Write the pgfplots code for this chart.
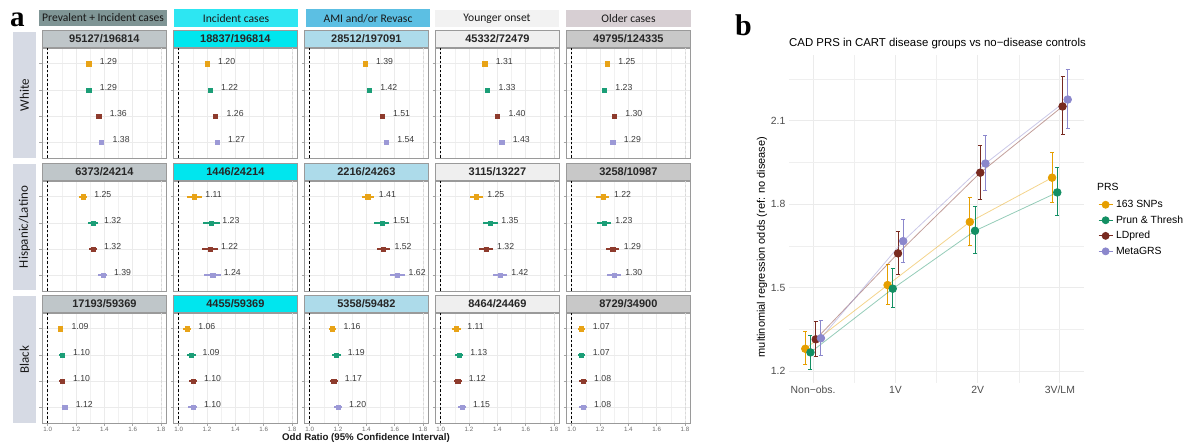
\documentclass[border=0pt]{standalone}
\usepackage{pgfplots}
\pgfplotsset{compat=1.18}
\usepackage{fontspec}
\setmainfont{Liberation Sans}
\newfontfamily\calibri{Carlito}
\newfontfamily\timesf{Liberation Serif}
\newcommand\fs[1]{\fontsize{#1bp}{#1bp}\selectfont}

\definecolor{cO}{HTML}{E8A317}
\definecolor{cG}{HTML}{1B9E77}
\definecolor{cR}{HTML}{8E3B2D}
\definecolor{cP}{HTML}{9C99D6}
\definecolor{bO}{HTML}{E69F00}
\definecolor{bG}{HTML}{138F63}
\definecolor{bR}{HTML}{782A20}
\definecolor{bP}{HTML}{8B87CC}
\definecolor{gridc}{HTML}{EBEBEB}
\definecolor{borderc}{HTML}{9A9A9A}
\definecolor{valc}{HTML}{3A3A3A}
\definecolor{tickc}{HTML}{4D4D4D}
\definecolor{hc1}{HTML}{7F9595}
\definecolor{hc2}{HTML}{2DE6F2}
\definecolor{hc3}{HTML}{5CBFE3}
\definecolor{hc4}{HTML}{F2F2F2}
\definecolor{hc5}{HTML}{D7CFD3}
\definecolor{sc1}{HTML}{BFC6C9}
\definecolor{sc2}{HTML}{00E6EE}
\definecolor{sc3}{HTML}{ADDBEA}
\definecolor{sc4}{HTML}{EFEFEF}
\definecolor{sc5}{HTML}{C8C8C8}
\definecolor{rowc}{HTML}{D6DAE4}

\pgfplotsset{
  facet/.style={
    scale only axis, width=124bp, height=110bp, anchor=north west,
    xmin=0.96, xmax=1.835, ymin=0.4, ymax=4.6, clip=false,
    xtick={1,1.2,1.4,1.6,1.8}, minor xtick={1.1,1.3,1.5,1.7},
    ytick={1,2,3,4}, yticklabels={},
    xmajorgrids, xminorgrids, ymajorgrids,
    major grid style={draw=gridc, line width=0.7bp},
    minor grid style={draw=gridc!70!white, line width=0.5bp},
    axis line style={draw=borderc, line width=0.8bp},
    tick align=outside, major tick length=2.5bp, minor tick length=0pt,
    tick style={draw=gray!70, line width=0.6bp},
    xtick pos=bottom, ytick pos=left,
    xticklabel style={font=\fs{6.2}, text=gray!85!black, inner sep=1.5bp},
    xticklabel={\pgfmathprintnumber[assume math mode=true,fixed,fixed zerofill,precision=1]{\tick}},
  },
  notick/.style={xmajorticks=false, xticklabel={}},
}

\newcommand{\pt}[4]{%
  \addplot[#1, only marks, mark=square*, mark size=2.1bp, point meta=x,
    nodes near coords={\pgfmathprintnumber[assume math mode=true,fixed,fixed zerofill,precision=2]{\pgfplotspointmeta}},
    every node near coord/.append style={anchor=west, xshift=11bp, yshift=2.5bp, font=\fs{8.7}, text=valc, inner sep=0pt},
    error bars/.cd, x dir=both, x explicit, error bar style={line width=2bp, #1}, error mark=none]
    coordinates {(#2,#3) +- (#4,0)};}

\newcommand{\four}[8]{\pt{cO}{#1}{4}{#2}\pt{cG}{#3}{3}{#4}\pt{cR}{#5}{2}{#6}\pt{cP}{#7}{1}{#8}}

\newcommand{\facet}[6]{%
  \node[anchor=south west, minimum width=124bp, minimum height=17bp, inner sep=0pt,
        fill=#3, draw=borderc, line width=0.8bp, font=\bfseries\fs{11}, text=black!85] at (#1bp,-#2bp) {#4};
  \begin{axis}[facet, at={(#1bp,-#2bp)}, #5]
    \addplot[black, dashed, dash pattern=on 2.5bp off 2bp, line width=0.7bp] coordinates {(1,0.4) (1,4.6)};
    \addplot[gray!30, dashed, dash pattern=on 2.5bp off 2bp, line width=0.6bp] coordinates {(1.8,0.4) (1.8,4.6)};
    #6
  \end{axis}}

\begin{document}
\begin{tikzpicture}
\path[use as bounding box] (0,0) rectangle (1186bp,-445bp);

% panel labels
\node[font=\timesf\bfseries\fs{29}, anchor=base west, inner sep=0pt] at (10bp,-26bp) {a};
\node[font=\timesf\bfseries\fs{30}, anchor=base west, inner sep=0pt] at (735bp,-35.5bp) {b};

% column headers
\fill[hc1] (39bp,-10bp) rectangle (167bp,-26bp);
\node[font=\calibri\fs{11.6}, text=black!90] at (103bp,-18bp) {Prevalent + Incident cases};
\fill[hc2] (174bp,-9bp) rectangle (298bp,-27bp);
\node[font=\calibri\fs{11.6}, text=black!90] at (236bp,-18.5bp) {Incident cases};
\fill[hc3] (306bp,-9bp) rectangle (430bp,-27bp);
\node[font=\calibri\fs{11.6}, text=black!90] at (368bp,-18.5bp) {AMI and/or Revasc};
\fill[hc4] (435bp,-10bp) rectangle (559bp,-27bp);
\node[font=\calibri\fs{11.6}, text=black!90] at (497bp,-18.5bp) {Younger onset};
\fill[hc5] (566bp,-10bp) rectangle (691bp,-27bp);
\node[font=\calibri\fs{11.6}, text=black!90] at (628.5bp,-18.5bp) {Older cases};

% row labels
\fill[rowc] (13bp,-32bp) rectangle (36bp,-158bp);
\node[rotate=90, font=\calibri\fs{13}, text=black!90] at (24.5bp,-95bp) {White};
\fill[rowc] (13bp,-164bp) rectangle (36bp,-290bp);
\node[rotate=90, font=\calibri\fs{13}, text=black!90] at (24.5bp,-227bp) {Hispanic/Latino};
\fill[rowc] (13bp,-296bp) rectangle (36bp,-423bp);
\node[rotate=90, font=\calibri\fs{13}, text=black!90] at (24.5bp,-359.5bp) {Black};

% Row 1: White
\facet{42}{48}{sc1}{95127/196814}{notick}{\four{1.29}{0.012}{1.29}{0.012}{1.36}{0.012}{1.38}{0.012}}
\facet{173}{48}{sc2}{18837/196814}{notick}{\four{1.20}{0.012}{1.22}{0.012}{1.26}{0.012}{1.27}{0.012}}
\facet{304}{48}{sc3}{28512/197091}{notick}{\four{1.39}{0.012}{1.42}{0.012}{1.51}{0.012}{1.54}{0.012}}
\facet{435}{48}{sc4}{45332/72479}{notick}{\four{1.31}{0.012}{1.33}{0.012}{1.40}{0.012}{1.43}{0.012}}
\facet{566}{48}{sc5}{49795/124335}{notick}{\four{1.25}{0.012}{1.23}{0.012}{1.30}{0.012}{1.29}{0.012}}

% Row 2: Hispanic/Latino
\facet{42}{181}{sc1}{6373/24214}{notick}{\four{1.25}{0.030}{1.32}{0.032}{1.32}{0.026}{1.39}{0.032}}
\facet{173}{181}{sc2}{1446/24214}{notick}{\four{1.11}{0.052}{1.23}{0.060}{1.22}{0.055}{1.24}{0.058}}
\facet{304}{181}{sc3}{2216/24263}{notick}{\four{1.41}{0.044}{1.51}{0.053}{1.52}{0.047}{1.62}{0.052}}
\facet{435}{181}{sc4}{3115/13227}{notick}{\four{1.25}{0.046}{1.35}{0.053}{1.32}{0.047}{1.42}{0.050}}
\facet{566}{181}{sc5}{3258/10987}{notick}{\four{1.22}{0.045}{1.23}{0.048}{1.29}{0.045}{1.30}{0.048}}

% Row 3: Black
\facet{42}{313}{sc1}{17193/59369}{}{\four{1.09}{0.020}{1.10}{0.020}{1.10}{0.020}{1.12}{0.020}}
\facet{173}{313}{sc2}{4455/59369}{}{\four{1.06}{0.030}{1.09}{0.033}{1.10}{0.030}{1.10}{0.032}}
\facet{304}{313}{sc3}{5358/59482}{}{\four{1.16}{0.027}{1.19}{0.030}{1.17}{0.027}{1.20}{0.030}}
\facet{435}{313}{sc4}{8464/24469}{}{\four{1.11}{0.030}{1.13}{0.030}{1.12}{0.027}{1.15}{0.030}}
\facet{566}{313}{sc5}{8729/34900}{}{\four{1.07}{0.027}{1.07}{0.027}{1.08}{0.027}{1.08}{0.027}}

\node[font=\bfseries\fs{9.7}, text=black!90] at (366bp,-438bp) {Odd Ratio (95\% Confidence Interval)};

% Panel b
\node[font=\fs{11.4}, anchor=west, inner sep=0pt] at (789bp,-44bp) {CAD PRS in CART disease groups vs no−disease controls};
\node[rotate=90, font=\fs{11}] at (762bp,-247bp) {multinomial regression odds (ref: no disease)};
\node[font=\fs{10.4}, anchor=west, inner sep=0pt] at (1097bp,-187bp) {PRS};

\begin{axis}[
  scale only axis, width=295bp, height=328bp, anchor=north west, at={(789bp,-55bp)},
  xmin=-0.293, xmax=3.293, ymin=1.157, ymax=2.336,
  xtick={0,1,2,3}, xticklabels={Non−obs., 1V, 2V, 3V/LM},
  minor xtick={0.5,1.5,2.5},
  ytick={1.2,1.5,1.8,2.1}, minor ytick={1.35,1.65,1.95,2.25},
  yticklabel={\pgfmathprintnumber[assume math mode=true,fixed,fixed zerofill,precision=1]{\tick}},
  xmajorgrids, xminorgrids, ymajorgrids, yminorgrids,
  major grid style={draw=gridc, line width=0.9bp},
  minor grid style={draw=gridc!80!white, line width=0.5bp},
  axis line style={draw=none}, major tick length=0pt, minor tick length=0pt,
  ticklabel style={font=\fs{10.4}, text=tickc},
  yticklabel style={inner sep=2bp, xshift=-1.5bp},
  xticklabel style={inner sep=2bp, yshift=-1bp},
  clip=false,
  legend style={draw=none, fill=none, at={(1.0475,0.562)}, anchor=north west,
    font=\fs{10.4}, inner sep=0pt, row sep=3.6bp, nodes={inner sep=1.5bp}},
  legend cell align=left,
  legend image code/.code={\draw[mark repeat=2, mark phase=2, #1] plot coordinates {(0bp,0bp) (7bp,0bp) (14bp,0bp)};\path (15.5bp,0bp);},
]
\addplot[bO, draw opacity=0.45, line width=0.8bp, mark=*, mark size=3.8bp, mark options={draw opacity=1, fill opacity=1}, forget plot,
  error bars/.cd, y dir=both, y explicit, error bar style={draw opacity=1, line width=0.9bp, bO},
  error mark options={rotate=90, mark size=2bp, line width=0.9bp, draw opacity=1, bO}]
  table[x=x, y=y, y error plus=ep, y error minus=em] {
x y ep em
-0.095 1.280 0.061 0.056
0.905 1.509 0.074 0.069
1.905 1.736 0.088 0.083
2.905 1.895 0.090 0.089
};
\addplot[bG, draw opacity=0.45, line width=0.8bp, mark=*, mark size=3.8bp, mark options={draw opacity=1, fill opacity=1}, forget plot,
  error bars/.cd, y dir=both, y explicit, error bar style={draw opacity=1, line width=0.9bp, bG},
  error mark options={rotate=90, mark size=2bp, line width=0.9bp, draw opacity=1, bG}]
  table[x=x, y=y, y error plus=ep, y error minus=em] {
x y ep em
-0.032 1.267 0.060 0.060
0.968 1.496 0.073 0.067
1.968 1.704 0.086 0.081
2.968 1.842 0.090 0.084
};
\addplot[bR, draw opacity=0.45, line width=0.8bp, mark=*, mark size=3.8bp, mark options={draw opacity=1, fill opacity=1}, forget plot,
  error bars/.cd, y dir=both, y explicit, error bar style={draw opacity=1, line width=0.9bp, bR},
  error mark options={rotate=90, mark size=2bp, line width=0.9bp, draw opacity=1, bR}]
  table[x=x, y=y, y error plus=ep, y error minus=em] {
x y ep em
0.032 1.314 0.063 0.061
1.032 1.623 0.080 0.076
2.032 1.913 0.098 0.096
3.032 2.151 0.107 0.100
};
\addplot[bP, draw opacity=0.45, line width=0.8bp, mark=*, mark size=3.8bp, mark options={draw opacity=1, fill opacity=1}, forget plot,
  error bars/.cd, y dir=both, y explicit, error bar style={draw opacity=1, line width=0.9bp, bP},
  error mark options={rotate=90, mark size=2bp, line width=0.9bp, draw opacity=1, bP}]
  table[x=x, y=y, y error plus=ep, y error minus=em] {
x y ep em
0.095 1.318 0.063 0.062
1.095 1.667 0.079 0.078
2.095 1.946 0.102 0.096
3.095 2.176 0.108 0.104
};
\addlegendimage{bO, line width=0.8bp, mark=*, mark size=3.5bp}
\addlegendentry{163 SNPs}
\addlegendimage{bG, line width=0.8bp, mark=*, mark size=3.5bp}
\addlegendentry{Prun \& Thresh}
\addlegendimage{bR, line width=0.8bp, mark=*, mark size=3.5bp}
\addlegendentry{LDpred}
\addlegendimage{bP, line width=0.8bp, mark=*, mark size=3.5bp}
\addlegendentry{MetaGRS}
\end{axis}
\end{tikzpicture}
\end{document}
